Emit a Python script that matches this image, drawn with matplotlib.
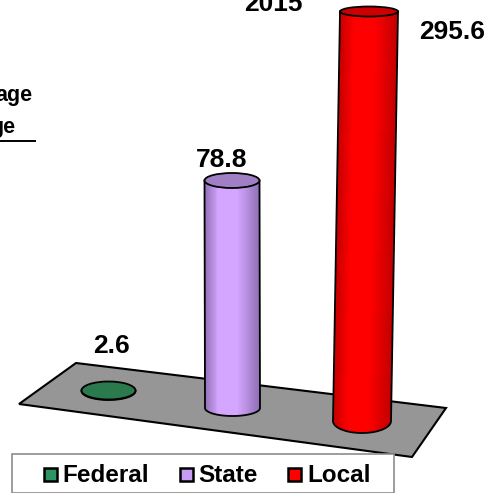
import numpy as np
import matplotlib
matplotlib.use("Agg")
import matplotlib.pyplot as plt
from matplotlib.colors import LinearSegmentedColormap
from matplotlib.patches import Ellipse, PathPatch, Polygon, Rectangle
from matplotlib.path import Path

categories = ["Federal", "State", "Local"]
values = [2.6, 78.8, 295.6]
value_labels = ["2.6", "78.8", "295.6"]
year_label = "2015"
cropped_labels = ["age", "ge"]

# Layout in pixels of the 496x493 picture
base_cx = [108.5, 232.5, 362]
base_cy = [391, 408, 421]
top_shift = [0, -0.5, 7]
half_width = [27, 27.5, 29]
base_ry = [9, 8, 12]
top_ry = [9, 7.5, 5]
body_edges = ["#123f28", "#8f70b5", "#c40000"]
body_mids = ["#2f8a5c", "#d5a6ff", "#ff0000"]
top_cols = ["#2a7a4e", "#a07fc4", "#cc0000"]
legend_cols = ["#2f9464", "#c79cf5", "#ff0000"]
label_xy = [(111, 346), (222, 160), (452, 32)]
floor = [(76, 363), (19, 404), (412, 457), (446, 408)]

# Pictured height of a column as a function of its value (the source axis is not linear)
scale_values = [0, 2.6, 78.8, 295.6]
scale_pixels = [0, 0.5, 227.5, 409.5]

FONT = ["Liberation Sans", "DejaVu Sans"]
plt.rcParams["font.family"] = FONT

fig = plt.figure(figsize=(4.96, 4.93), dpi=100)
ax = fig.add_axes([0, 0, 1, 1])
ax.set_xlim(0, 496)
ax.set_ylim(493, 0)
ax.axis("off")

ax.add_patch(Polygon(floor, closed=True, fc="#969696", ec="black", lw=1.5, zorder=1))


def cylinder(i, value):
    h = np.interp(value, scale_values, scale_pixels)
    bx, by = base_cx[i], base_cy[i]
    tx, ty = bx + top_shift[i], by - h
    w, r = half_width[i], base_ry[i]
    t = np.linspace(0, np.pi, 60)
    arc_x = bx + w * np.cos(t)
    arc_y = by + r * np.sin(t)
    px = np.r_[tx + w, arc_x, tx - w, tx + w]
    py = np.r_[ty, arc_y, ty, ty]
    codes = [Path.MOVETO] + [Path.LINETO] * (len(px) - 2) + [Path.CLOSEPOLY]
    path = Path(np.c_[px, py], codes)
    cmap = LinearSegmentedColormap.from_list(
        "c", [(0, body_edges[i]), (0.25, body_mids[i]), (0.6, body_mids[i]), (1, body_edges[i])])
    u = np.linspace(0, 1, 61)
    v = np.array([0.0, 1.0])
    U, V = np.meshgrid(u, v)
    X = (tx - w + 2 * w * U) * (1 - V) + (bx - w + 2 * w * U) * V
    Y = ty + (by + r + 1 - ty) * V
    mesh = ax.pcolormesh(X, Y, U[:-1, :-1], cmap=cmap, shading="flat", zorder=2, rasterized=True)
    patch = PathPatch(path, fc="none", ec="black", lw=1.3, zorder=3)
    ax.add_patch(patch)
    mesh.set_clip_path(patch)
    ax.add_patch(Ellipse((tx, ty), 2 * w, 2 * top_ry[i], fc=top_cols[i], ec="black", lw=1.3, zorder=4))


for i, v in enumerate(values):
    cylinder(i, v)

for (x, y), s in zip(label_xy, value_labels):
    ax.text(x, y, s, ha="center", va="center", fontsize=19, fontweight="bold", color="black", zorder=6)
ax.text(273.5, 4, year_label, ha="center", va="center", fontsize=19, fontweight="bold", zorder=6)

ax.text(33, 95, cropped_labels[0], ha="right", va="center", fontsize=15.5, fontweight="bold", zorder=6)
ax.text(15, 128, cropped_labels[1], ha="right", va="center", fontsize=15.5, fontweight="bold", zorder=6)
ax.plot([0, 35], [140.5, 140.5], color="black", lw=1.4, zorder=6)

ax.add_patch(Rectangle((11.5, 453.5), 382.5, 39, fc="white", ec="#8c8c8c", lw=1.2, zorder=5))
for i, (name, mark_x, text_x) in enumerate(zip(categories, [44, 180, 288], [62, 198, 307])):
    ax.add_patch(Rectangle((mark_x, 468), 13, 13, fc=legend_cols[i], ec="black", lw=1.8, zorder=6))
    ax.text(text_x, 476, name, ha="left", va="center", fontsize=17.5, fontweight="bold", zorder=6)

fig.savefig("out.png", dpi=100)
